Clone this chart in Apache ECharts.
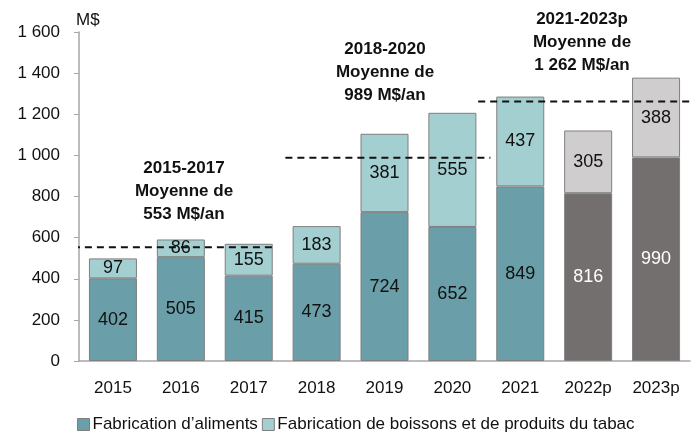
<!DOCTYPE html>
<html>
<head>
<meta charset="utf-8">
<script src="https://cdn.jsdelivr.net/npm/echarts@6/dist/echarts.min.js"></script>
<style>
  html, body { margin: 0; padding: 0; background: #fff; }
  #chart { width: 699px; height: 433px; }
</style>
</head>
<body>
<div id="chart"></div>
<script>
const years = ['2015', '2016', '2017', '2018', '2019', '2020', '2021', '2022p', '2023p'];
const aliments = [402, 505, 415, 473, 724, 652, 849, 816, 990];
const boissons = [97, 86, 155, 183, 381, 555, 437, 305, 388];
const firstForecast = 7; // 2022p et 2023p en gris

// moyennes par periode et etendue des pointilles (en unites de categorie)
const periods = ['2015-2017', '2018-2020', '2021-2023p'];
const averages = [553, 989, 1262];
const avgLabels = ['553 M$/an', '989 M$/an', '1 262 M$/an'];
const avgFrom = [-0.09, 3.04, 5.88];
const avgTo = [2.87, 6.06, 9.0];

const FONT = '"Liberation Sans", Arial, sans-serif';
const COL = {
  food: '#6a9fa9',
  drink: '#a4cfd1',
  foodP: '#736f6f',
  drinkP: '#d0cdce',
  border: '#7f7f7f',
};

const fr = (v) => String(v).replace(/\B(?=(\d{3})+(?!\d))/g, ' ');

const foodData = aliments.map((v, i) => {
  const p = i >= firstForecast;
  return {
    value: v,
    itemStyle: { color: p ? COL.foodP : COL.food },
    label: { color: p ? '#fff' : '#111' },
  };
});
const drinkData = boissons.map((v, i) => ({
  value: v,
  itemStyle: { color: i >= firstForecast ? COL.drinkP : COL.drink },
}));

const avgSeries = averages.map((v, i) => ({
  type: 'line',
  xAxisIndex: 1,
  data: [[avgFrom[i], v], [avgTo[i], v]],
  showSymbol: false,
  silent: true,
  clip: false,
  z: 5,
  lineStyle: { color: '#111', width: 2, type: [7, 5] },
}));

// centre haut des blocs de texte
const notePos = [[184, 157], [385, 38], [582, 8]];

const option = {
  backgroundColor: '#fff',
  animation: false,
  textStyle: { fontFamily: FONT },
  grid: { left: 79, right: 9, top: 32, bottom: 72 },
  legend: {
    data: ['Fabrication d\u2019aliments', 'Fabrication de boissons et de produits du tabac'],
    left: 72,
    top: 411,
    width: 640,
    icon: 'rect',
    itemWidth: 12,
    itemHeight: 12,
    itemGap: 4,
    itemStyle: { borderColor: COL.border, borderWidth: 1 },
    textStyle: { fontFamily: FONT, fontSize: 17, color: '#111', padding: [0, 0, 0, -2] },
  },
  xAxis: [
    {
      type: 'category',
      data: years,
      axisLine: { lineStyle: { color: '#a6a6a6', width: 1.5 } },
      axisTick: { show: false },
      axisLabel: { color: '#111', fontSize: 17, margin: 19, interval: 0 },
    },
    {
      type: 'value',
      min: 0,
      max: 9,
      show: false,
    },
  ],
  yAxis: {
    type: 'value',
    min: 0,
    max: 1600,
    interval: 200,
    name: 'M$',
    nameLocation: 'end',
    nameGap: 3,
    nameTextStyle: { color: '#111', fontSize: 17, align: 'left', padding: [0, 0, 0, -3] },
    axisLine: { show: true, lineStyle: { color: '#a6a6a6', width: 1.5 } },
    axisTick: { show: true, length: 5, lineStyle: { color: '#a6a6a6' } },
    splitLine: { show: false },
    axisLabel: { color: '#111', fontSize: 17, margin: 19, formatter: fr },
  },
  graphic: periods.map((p, i) => ({
    type: 'text',
    x: notePos[i][0],
    y: notePos[i][1],
    style: {
      text: p + '\nMoyenne de\n' + avgLabels[i],
      fill: '#111',
      font: 'bold 17px ' + FONT,
      align: 'center',
      verticalAlign: 'top',
      lineHeight: 23,
    },
  })),
  series: [
    {
      name: 'Fabrication d\u2019aliments',
      type: 'bar',
      stack: 'total',
      barWidth: 48,
      data: foodData,
      itemStyle: { color: COL.food, borderColor: COL.border, borderWidth: 1 },
      label: { show: true, position: 'inside', fontSize: 18, fontFamily: FONT },
    },
    {
      name: 'Fabrication de boissons et de produits du tabac',
      type: 'bar',
      stack: 'total',
      barWidth: 48,
      data: drinkData,
      itemStyle: { color: COL.drink, borderColor: COL.border, borderWidth: 1 },
      label: { show: true, position: 'inside', fontSize: 18, color: '#111', fontFamily: FONT },
    },
    ...avgSeries,
  ],
};

const chart = echarts.init(document.getElementById('chart'));
chart.setOption(option);
</script>
</body>
</html>
